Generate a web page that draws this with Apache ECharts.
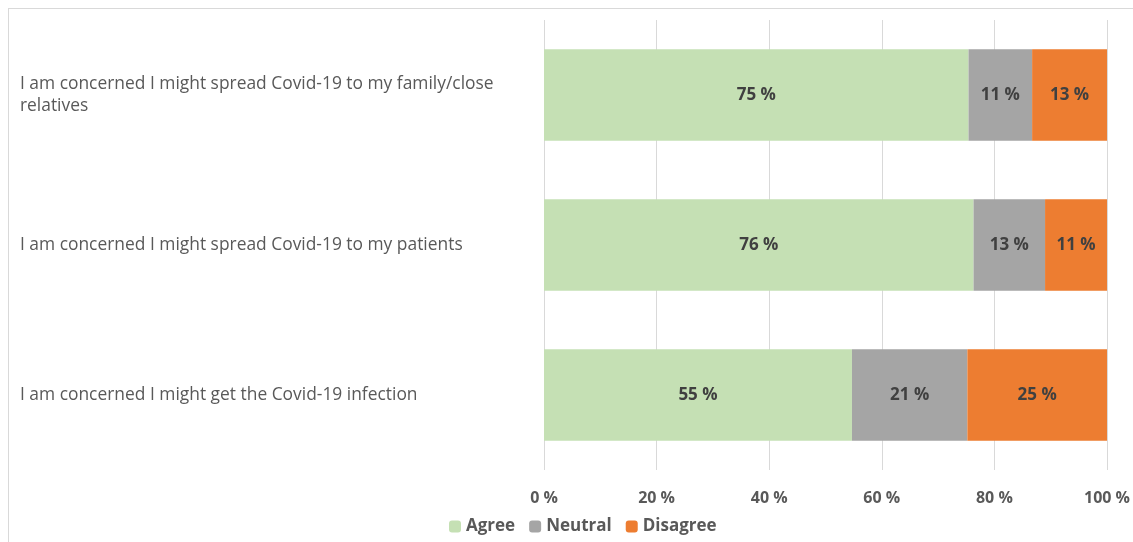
<!DOCTYPE html>
<html><head><meta charset="utf-8">
<script src="https://cdn.jsdelivr.net/npm/echarts@6/dist/echarts.min.js"></script>
<style>
html,body{margin:0;padding:0;background:#fff;}
#frame{position:absolute;left:8px;top:8px;width:1140px;height:560px;border:1px solid #d9d9d9;box-sizing:border-box;}
#chart{position:absolute;left:0;top:0;width:1133px;height:542px;}
</style></head><body>
<div id="frame"></div>
<div id="chart"></div>
<script>
const categories = [
  "I am concerned I might spread Covid-19 to my family/close relatives",
  "I am concerned I might spread Covid-19 to my patients",
  "I am concerned I might get the Covid-19 infection"
];
const agree = [75.4, 76.3, 54.7];
const neutral = [11.3, 12.7, 20.5];
const disagree = [13.3, 11.0, 24.8];
const seriesNames = ["Agree", "Neutral", "Disagree"];
const colors = ["#c5e0b4", "#a5a5a5", "#ed7d31"];

const chart = echarts.init(document.getElementById('chart'));
const font = "'Open Sans', 'Noto Sans', sans-serif";
function mk(name, data, color) {
  return {
    name, type: 'bar', stack: 'total', data,
    barCategoryGap: '39%',
    itemStyle: { color },
    label: {
      show: true, position: 'inside',
      formatter: p => Math.round(p.value) + ' %',
      color: '#404040', fontWeight: 'bold', fontSize: 17, fontFamily: font
    }
  };
}
chart.setOption({
  animation: false,
  textStyle: { fontFamily: font },
  grid: { left: 544, right: 23, top: 20, bottom: 72, containLabel: false },
  xAxis: {
    type: 'value', min: 0, max: 100, interval: 20,
    axisLabel: { formatter: v => v + ' %', color: '#595959', fontWeight: 'bold', fontSize: 16, margin: 20, fontFamily: font },
    splitLine: { lineStyle: { color: '#d9d9d9' } },
    axisLine: { show: false }, axisTick: { show: false }
  },
  yAxis: {
    type: 'category', data: categories, inverse: true,
    axisLine: { show: false }, axisTick: { show: false },
    axisLabel: {
      align: 'left', margin: 524, width: 495, overflow: 'break',
      color: '#595959', fontSize: 17.4, lineHeight: 22, fontFamily: font
    }
  },
  legend: {
    bottom: 2, left: 444, itemWidth: 12, itemHeight: 12, itemGap: 14,
    textStyle: { color: '#595959', fontWeight: 'bold', fontSize: 17, fontFamily: font },
    data: seriesNames
  },
  series: [mk(seriesNames[0], agree, colors[0]), mk(seriesNames[1], neutral, colors[1]), mk(seriesNames[2], disagree, colors[2])]
});
</script>
</body></html>
